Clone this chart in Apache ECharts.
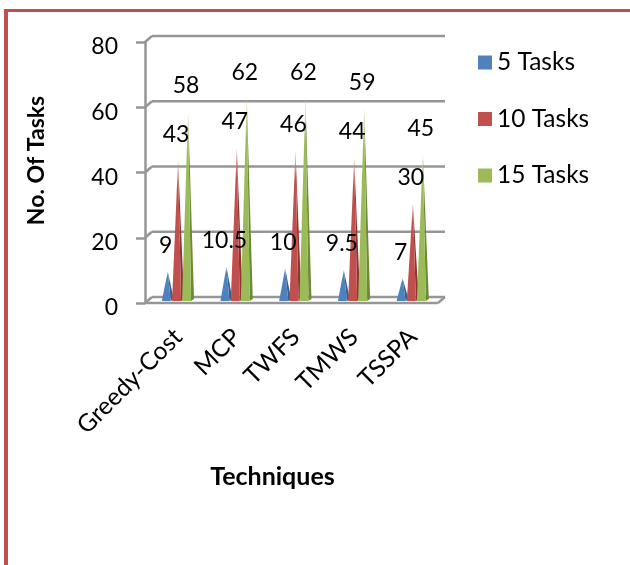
<!DOCTYPE html>
<html>
<head>
<meta charset="utf-8" />
<style>
  html, body { margin: 0; padding: 0; background: #fff; }
  #frame { position: absolute; left: 4px; top: 9px; right: 0; bottom: 0; border-left: 4px solid #c0504d; border-top: 3px solid #c0504d; }
  #main { position: absolute; left: 0; top: 0; width: 630px; height: 565px; }
</style>
</head>
<body>
<div id="frame"></div>
<div id="main"></div>
<script src="https://cdn.jsdelivr.net/npm/echarts@6/dist/echarts.min.js"></script>
<script>
const techniques = ["Greedy-Cost", "MCP", "TWFS", "TMWS", "TSSPA"];
const tasks5 = [9, 10.5, 10, 9.5, 7];
const tasks10 = [43, 47, 46, 44, 30];
const tasks15 = [58, 62, 62, 59, 45];
const wallTicks = [0, 20, 40, 60, 80];

const fontName = "Lato";
const wallColor = "#969696";

var myChart = echarts.init(document.getElementById("main"), null, { renderer: "canvas" });

// back wall and floor, pushed back from the front axis
function renderWall(params, api) {
  const v = api.value(0);
  const a = api.coord([0, v]);
  const b = api.coord([1, v]);
  const dx = 7, dy = -6;
  const lineStyle = { stroke: wallColor, lineWidth: 2.5, fill: null };
  const children = [
    { type: "line", shape: { x1: a[0], y1: a[1], x2: a[0] + dx, y2: a[1] + dy }, style: lineStyle },
    { type: "line", shape: { x1: a[0] + dx, y1: a[1] + dy, x2: b[0] + dx, y2: b[1] + dy }, style: lineStyle },
  ];
  if (v === 0) {
    children.push({ type: "line", shape: { x1: a[0], y1: a[1], x2: b[0], y2: b[1] }, style: lineStyle });
    children.push({ type: "line", shape: { x1: b[0], y1: b[1], x2: b[0] + dx, y2: b[1] + dy }, style: lineStyle });
  }
  return { type: "group", children: children };
}

function pyramid(name, values, offset, color, light, dark) {
  return {
    name: name,
    type: "custom",
    xAxisIndex: 1,
    yAxisIndex: 1,
    itemStyle: { color: color },
    data: values.map(function (v, i) { return [i, v]; }),
    renderItem: function (params, api) {
      const base = api.coord([api.value(0), 0]);
      const top = api.coord([api.value(0), api.value(1)]);
      const ax = base[0] + offset;
      const fill = new echarts.graphic.LinearGradient(0, 0, 0, 1, [
        { offset: 0, color: light },
        { offset: 0.2, color: color },
        { offset: 1, color: color },
      ]);
      return {
        type: "group",
        children: [
          {
            type: "polygon",
            shape: { points: [[ax, top[1]], [ax + 3, base[1]], [ax + 6, base[1] - 2]] },
            style: { fill: dark },
          },
          {
            type: "polygon",
            shape: { points: [[ax, top[1]], [ax - 6, base[1]], [ax + 3, base[1]]] },
            style: { fill: fill },
          },
          {
            type: "text",
            z2: 100,
            style: {
              text: String(api.value(1)),
              x: ax - 2,
              y: top[1] - 26,
              align: "center",
              verticalAlign: "middle",
              font: "23px " + fontName,
              fill: "#000",
            },
          },
        ],
      };
    },
  };
}

var option = {
  animation: false,
  textStyle: { fontFamily: fontName },
  legend: {
    orient: "vertical",
    left: 473,
    top: 45,
    itemWidth: 14,
    itemHeight: 14,
    itemGap: 31.5,
    icon: "rect",
    data: ["5 Tasks", "10 Tasks", "15 Tasks"],
    textStyle: { fontSize: 24.5, color: "#000", fontFamily: fontName },
  },
  grid: [
    { left: 145, top: 42, width: 293, height: 261 },
    { left: 148.7, top: 40, width: 293.5, height: 261 },
  ],
  xAxis: [
    { type: "value", gridIndex: 0, min: 0, max: 1, show: false },
    {
      type: "category",
      gridIndex: 1,
      data: techniques,
      name: "Techniques",
      nameLocation: "middle",
      nameGap: 163,
      nameTextStyle: { fontSize: 25, fontWeight: "bold", color: "#000", fontFamily: fontName, padding: [0, 46, 0, 0] },
      axisLine: { show: false },
      axisTick: { show: false },
      axisLabel: { rotate: 45, fontSize: 24.5, color: "#000", margin: 32, interval: 0, fontFamily: fontName },
    },
  ],
  yAxis: [
    {
      type: "value",
      gridIndex: 0,
      min: 0,
      max: 80,
      interval: 20,
      name: "No. Of Tasks",
      nameLocation: "middle",
      nameGap: 97,
      nameTextStyle: { fontSize: 23, fontWeight: "bold", color: "#000", fontFamily: fontName, padding: [0, 0, 0, 24] },
      axisLine: { show: true, lineStyle: { color: wallColor, width: 2.5 } },
      axisTick: { show: true, length: 9, lineStyle: { color: wallColor, width: 2.5 } },
      axisLabel: { fontSize: 23, color: "#000", margin: 27, verticalAlign: "top", lineHeight: 10, fontFamily: fontName },
      splitLine: { show: false },
    },
    { type: "value", gridIndex: 1, min: 0, max: 80, show: false, splitLine: { show: false } },
  ],
  series: [
    {
      name: "wall",
      type: "custom",
      xAxisIndex: 0,
      yAxisIndex: 0,
      silent: true,
      data: wallTicks.map(function (v) { return [v]; }),
      renderItem: renderWall,
    },
    pyramid("5 Tasks", tasks5, -10.3, "#4f81bd", "#8fb0d8", "#35608f"),
    pyramid("10 Tasks", tasks10, 0, "#c0504d", "#e8b5b3", "#8e3532"),
    pyramid("15 Tasks", tasks15, 10, "#9bbb59", "#e6efd2", "#6d8a36"),
  ],
};

option && myChart.setOption(option);
</script>
</body>
</html>
